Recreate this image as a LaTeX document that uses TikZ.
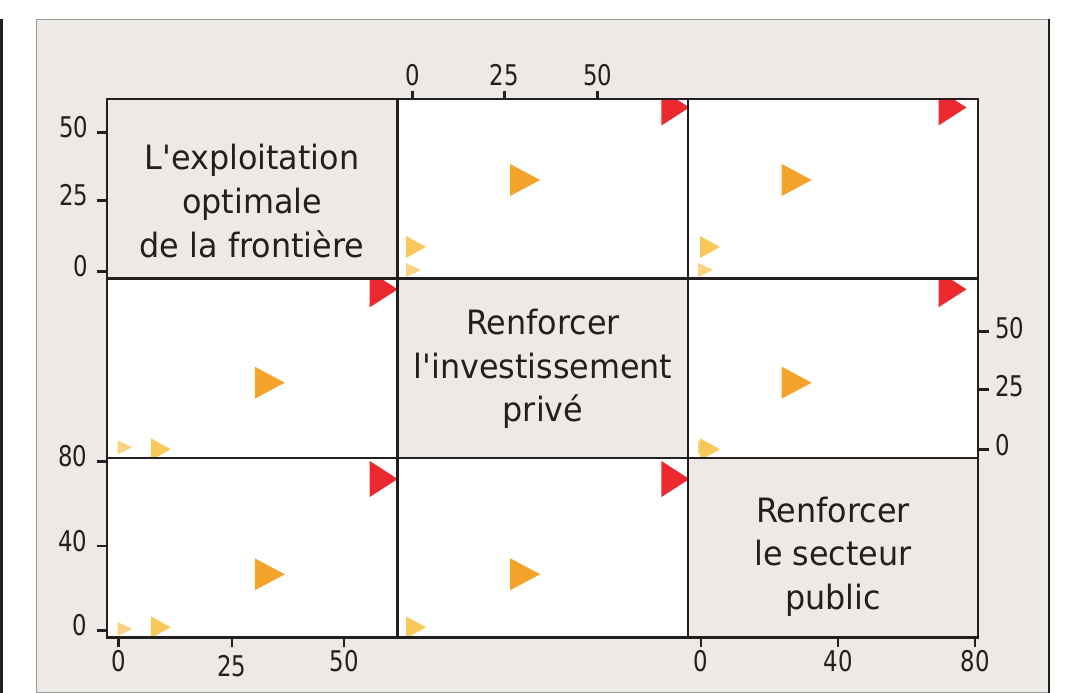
\documentclass[tikz,border=0pt]{standalone}
\usepackage{fontspec}
\setmainfont{DejaVu Sans}
\newfontfamily\bodyfont{DejaVu Sans}[FakeStretch=0.95]
\newfontfamily\tickfont{DejaVu Sans}[FakeStretch=0.8]
\definecolor{panelc}{HTML}{EDE9E5}
\definecolor{linec}{HTML}{231F20}
\definecolor{trired}{HTML}{ED2930}
\definecolor{triorange}{HTML}{F4A42B}
\definecolor{triyellow}{HTML}{F9C85A}
\definecolor{trilight}{HTML}{F9D382}
\newcommand\redtri[2]{\fill[trired] ({#1-28},{#2-18}) -- (#1,#2) -- ({#1-28},{#2+18}) -- cycle;}
\newcommand\oratri[2]{\fill[triorange] ({#1-30},{#2-16}) -- (#1,#2) -- ({#1-30},{#2+16}) -- cycle;}
\newcommand\yeltri[2]{\fill[triyellow] ({#1-20},{#2-11}) -- (#1,#2) -- ({#1-20},{#2+11}) -- cycle;}
\newcommand\ligtri[2]{\fill[trilight] ({#1-15},{#2-7}) -- (#1,#2) -- ({#1-15},{#2+7}) -- cycle;}
\begin{document}
\begin{tikzpicture}[x=1pt,y=-1pt,
  gridline/.style={line width=2.8pt, draw=linec},
  tickline/.style={line width=2.5pt, draw=linec},
  ticklab/.style={font=\tickfont\fontsize{28.5}{30}\selectfont, text=linec, inner sep=0pt},
  lab/.style={font=\bodyfont\fontsize{33.5}{44}\selectfont, text=linec, inner sep=0pt, anchor=base},
  diagcell/.style={fill=panelc},
  offcell/.style={fill=white}]
\useasboundingbox (0,0) rectangle (1092,693);
\fill[white] (0,0) rectangle (1092,693);
% outer frame
\draw[line width=2.5pt, draw=linec] (1.5,19) -- (1.5,693);
\fill[panelc] (36,20) rectangle (1049,692);
\draw[line width=1pt, draw=gray!80] (1049,20) -- (36,20) -- (36,692) -- (1049,692);
\draw[line width=2.5pt, draw=linec] (1049,19.5) -- (1049,693);
% cells
\fill[diagcell] (107,99) rectangle (397.5,278.5);
\fill[offcell] (397.5,99) rectangle (688,278.5);
\fill[offcell] (688,99) rectangle (978,278.5);
\fill[offcell] (107,278.5) rectangle (397.5,458);
\fill[diagcell] (397.5,278.5) rectangle (688,458);
\fill[offcell] (688,278.5) rectangle (978,458);
\fill[offcell] (107,458) rectangle (397.5,637.5);
\fill[offcell] (397.5,458) rectangle (688,637.5);
\fill[diagcell] (688,458) rectangle (978,637.5);
% cell (1,2)
\begin{scope}
\clip (397.5,99) rectangle (688,278.5);
\redtri{689.4}{107.5}
\oratri{540.1}{180}
\ligtri{421}{270}
\yeltri{426}{247}
\end{scope}
% cell (1,3)
\begin{scope}
\clip (688,99) rectangle (978,278.5);
\redtri{966.5}{107.5}
\oratri{811.7}{180}
\ligtri{713}{270}
\yeltri{720}{247}
\end{scope}
% cell (2,1)
\begin{scope}
\clip (107,278.5) rectangle (397.5,458);
\redtri{397.7}{289.3}
\oratri{284.8}{382.7}
\ligtri{132.5}{447.3}
\yeltri{170.8}{449.3}
\end{scope}
% cell (2,3)
\begin{scope}
\clip (688,278.5) rectangle (978,458);
\redtri{966.5}{289.3}
\oratri{811.7}{382.7}
\ligtri{713}{447.3}
\yeltri{720}{449.3}
\end{scope}
% cell (3,1)
\begin{scope}
\clip (107,458) rectangle (397.5,637.5);
\redtri{397.7}{479}
\oratri{284.8}{574.3}
\ligtri{132.5}{629}
\yeltri{170.8}{627.3}
\end{scope}
% cell (3,2)
\begin{scope}
\clip (397.5,458) rectangle (688,637.5);
\redtri{689.4}{479}
\oratri{540.1}{574.3}
\ligtri{421}{629}
\yeltri{426}{627.3}
\end{scope}
% grid
\draw[gridline] (107,99) rectangle (978,637.5);
\draw[gridline] (397.5,99) -- (397.5,637.5);
\draw[gridline] (688,99) -- (688,637.5);
\draw[gridline] (107,278.5) -- (978,278.5);
\draw[gridline] (107,458) -- (978,458);
% diagonal labels
\node[lab] (t1a) at (252,169) {L'exploitation};
\node[lab] (t1b) at (252,213) {optimale};
\node[lab] (t1c) at (252,257) {de la frontière};
\node[lab] (t2a) at (543,334) {Renforcer};
\node[lab] (t2b) at (543,378) {l'investissement};
\node[lab] (t2c) at (543,421.5) {privé};
\node[lab] (t3a) at (833,522) {Renforcer};
\node[lab] (t3b) at (833,565.5) {le secteur};
\node[lab] (t3c) at (833,609) {public};
% top axis (column 2)
\foreach \x/\l [count=\i] in {412.3/0,504.3/25,597.7/50}{
  \draw[tickline] (\x,90.5) -- (\x,99);
  \node[ticklab, anchor=base] (ta\i) at (\x,85.5) {\l};
}
% left axis row 1
\foreach \y/\l [count=\i] in {132.3/50,200.3/25,271.3/0}{
  \draw[tickline] (96.5,\y) -- (107,\y);
  \node[ticklab, anchor=base east] (la\i) at (88.5,\y+5) {\l};
}
% right axis row 2
\foreach \y/\l [count=\i] in {331.7/50,389.7/25,449.3/0}{
  \draw[tickline] (978,\y) -- (988.5,\y);
  \node[ticklab, anchor=base west] (ra\i) at (995,\y+6.5) {\l};
}
% left axis row 3
\foreach \y/\l [count=\i] in {461.7/80,546/40,630.7/0}{
  \draw[tickline] (96.5,\y) -- (107,\y);
  \node[ticklab, anchor=base east] (lb\i) at (87.5,\y+5) {\l};
}
% bottom axis column 1
\foreach \x/\l/\b [count=\i] in {118.4/0/671.5,232/25/676,344.2/50/671.5}{
  \draw[tickline] (\x,637.5) -- (\x,647);
  \node[ticklab, anchor=base] (ba\i) at (\x,\b) {\l};
}
% bottom axis column 3
\foreach \x/\l [count=\i] in {701/0,838/40,975/80}{
  \draw[tickline] (\x,637.5) -- (\x,647);
  \node[ticklab, anchor=base] (bb\i) at (\x,671.5) {\l};
}
\end{tikzpicture}
\end{document}
